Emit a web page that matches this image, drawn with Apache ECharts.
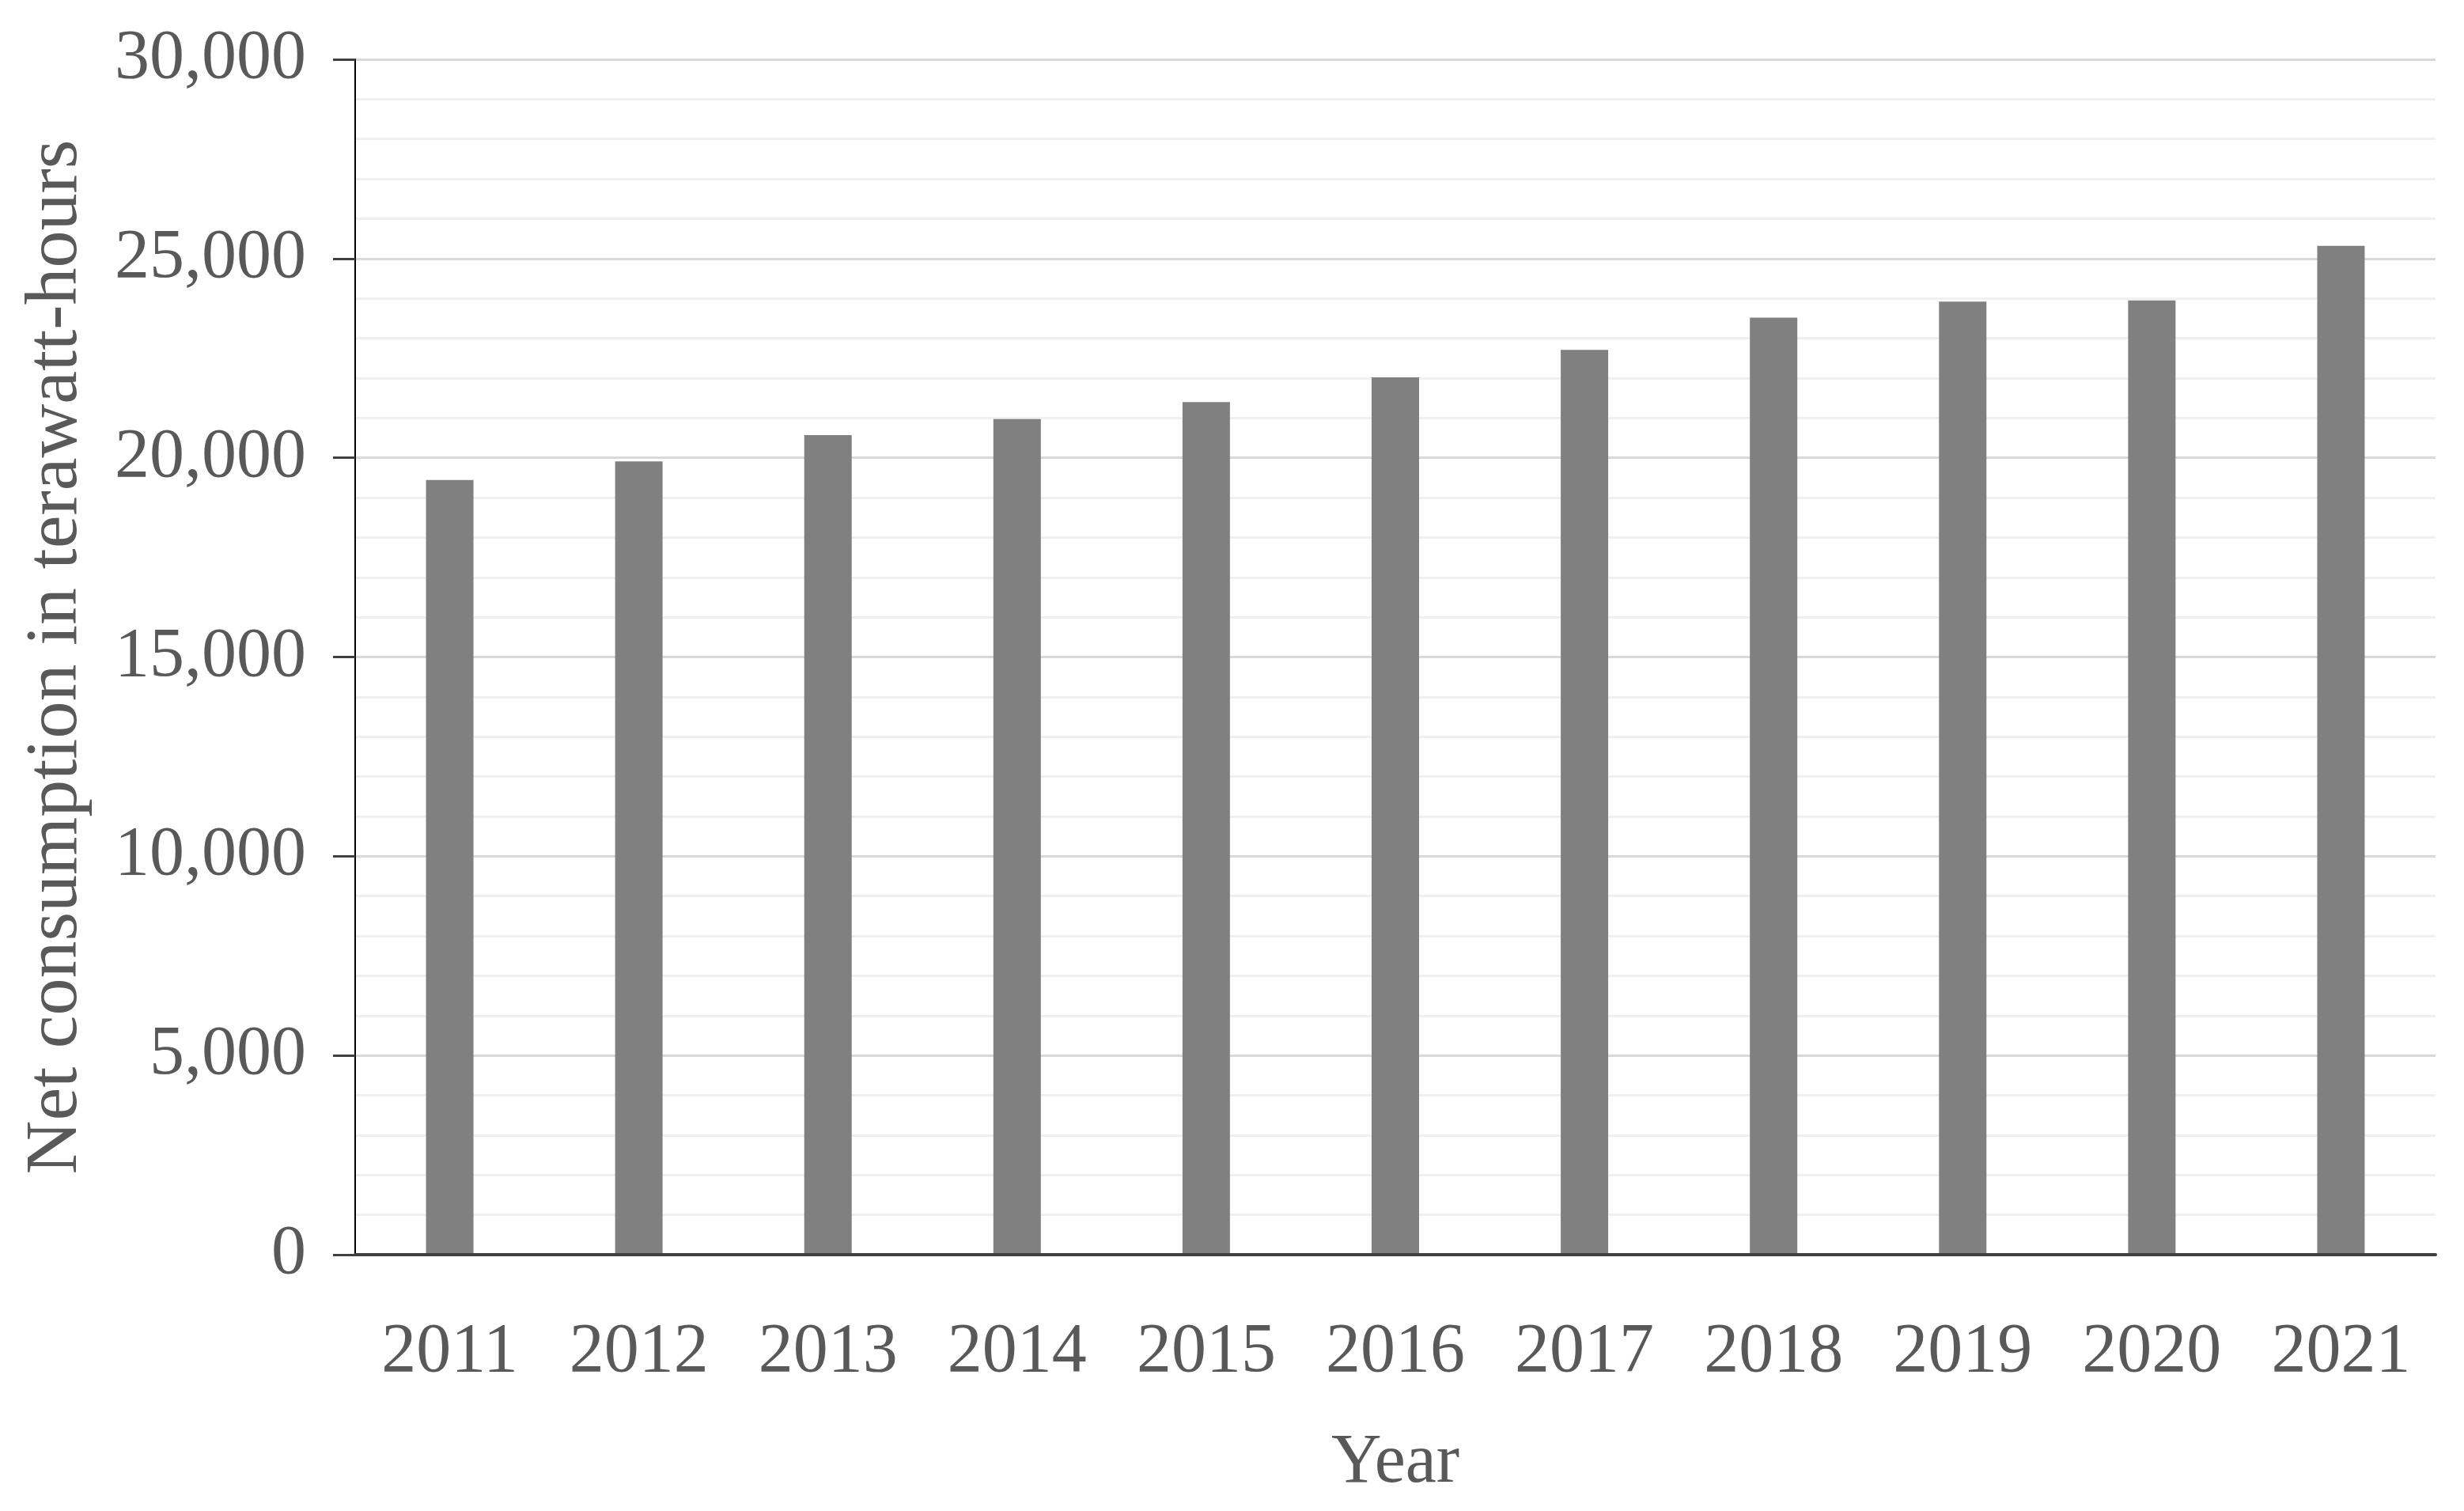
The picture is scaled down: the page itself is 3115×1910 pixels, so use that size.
<!DOCTYPE html>
<html>
<head>
<meta charset="utf-8">
<script src="https://cdn.jsdelivr.net/npm/echarts@6/dist/echarts.min.js"></script>
<style>
  html, body { margin: 0; padding: 0; background: #fff; }
  #chart { width: 3115px; height: 1910px; }
</style>
</head>
<body>
<div id="chart"></div>
<script>
// net consumption, TWh
var years = ['2011', '2012', '2013', '2014', '2015', '2016', '2017', '2018', '2019', '2020', '2021']
var consumption = [19440, 19910, 20570, 20970, 21400, 22020, 22710, 23520, 23920, 23950, 25320]

var FONT = '"Liberation Serif", "DejaVu Serif", serif'
var TEXT = '#595959'

var chart = echarts.init(document.getElementById('chart'))

chart.setOption({
  animation: false,
  backgroundColor: '#ffffff',
  grid: {
    left: 449,
    right: 36,
    top: 75,
    bottom: 324,
    containLabel: false,
    outerBoundsMode: 'none'
  },
  xAxis: {
    type: 'category',
    data: years,
    z: 3,
    name: 'Year',
    nameLocation: 'middle',
    nameGap: 220,
    nameTextStyle: { fontFamily: FONT, fontSize: 88, color: TEXT },
    axisLine: { show: true, lineStyle: { color: '#404040', width: 4 } },
    axisTick: { show: false },
    axisLabel: { margin: 80, fontFamily: FONT, fontSize: 88, color: TEXT },
    splitLine: { show: false }
  },
  yAxis: {
    type: 'value',
    min: 0,
    max: 30000,
    interval: 5000,
    name: 'Net consumption in terawatt-hours',
    nameLocation: 'middle',
    nameGap: 331,
    nameTextStyle: { fontFamily: FONT, fontSize: 94, color: TEXT },
    axisLine: { show: true, lineStyle: { color: '#000000', width: 2 } },
    axisTick: { show: true, length: 28, lineStyle: { color: '#404040', width: 3 } },
    axisLabel: {
      margin: 62,
      fontFamily: FONT,
      fontSize: 88,
      color: TEXT,
      formatter: function (v) { return v.toLocaleString('en-US') }
    },
    splitLine: { show: true, lineStyle: { color: '#d9d9d9', width: 3 } },
    minorTick: { show: false, splitNumber: 5 },
    minorSplitLine: { show: true, lineStyle: { color: '#f0f0f0', width: 3 } }
  },
  series: [{
    type: 'bar',
    data: consumption,
    barWidth: 60,
    itemStyle: { color: '#808080' }
  }]
})
</script>
</body>
</html>
